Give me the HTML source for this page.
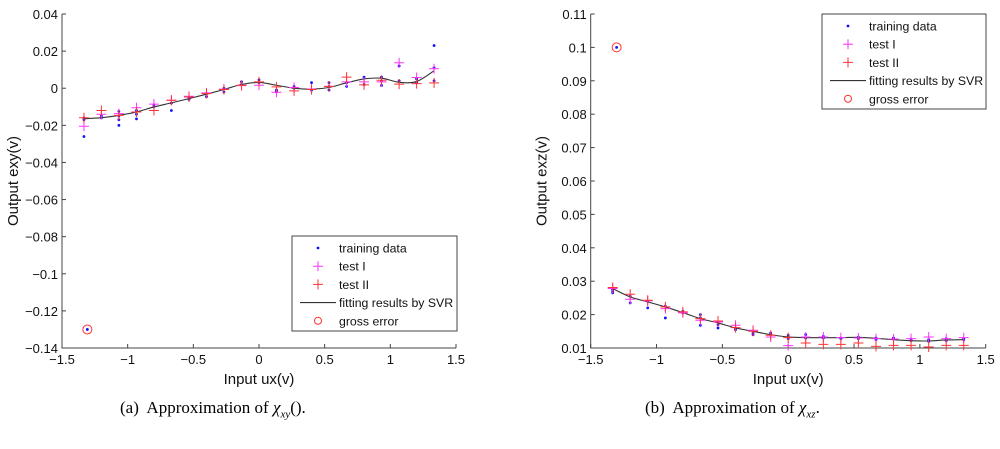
<!DOCTYPE html>
<html><head><meta charset="utf-8">
<style>
body{margin:0;background:#fff;width:1000px;height:444px;overflow:hidden;font-family:"Liberation Sans",sans-serif;}
svg text{font-family:"Liberation Sans",sans-serif;}
.cap{font-family:"Liberation Serif",serif;font-size:17px;}
</style></head><body>
<svg id="s" width="1000" height="444" viewBox="0 0 1000 444"></svg>
<script>
const xCats=[-1.333,-1.2,-1.067,-0.933,-0.8,-0.667,-0.533,-0.4,-0.267,-0.133,0,0.133,0.267,0.4,0.533,0.667,0.8,0.933,1.067,1.2,1.333];
const xTicks=[-1.5,-1,-0.5,0,0.5,1,1.5];
const xTickLabels=["\u22121.5","\u22121","\u22120.5","0","0.5","1","1.5"];
// Left chart
const aYTicks=[0.04,0.02,0,-0.02,-0.04,-0.06,-0.08,-0.1,-0.12,-0.14];
const aYTickLabels=["0.04","0.02","0","\u22120.02","\u22120.04","\u22120.06","\u22120.08","\u22120.1","\u22120.12","\u22120.14"];
const aFit=[-0.0164,-0.0159,-0.0146,-0.0128,-0.0101,-0.0079,-0.0056,-0.0032,-0.0007,0.002,0.0031,0.0016,0,-0.0005,0.0004,0.0029,0.005,0.0054,0.0032,0.0036,0.0094];
const aTest2=[-0.0159,-0.012,-0.0146,-0.0128,-0.012,-0.0065,-0.0047,-0.0029,-0.0007,0.0016,0.0034,0.0007,-0.0014,-0.0007,0.001,0.006,0.0018,0.0043,0.0022,0.0025,0.0029];
const aTest1=[-0.0205,-0.014,-0.0137,-0.0105,-0.0086,-0.0065,-0.0043,-0.0025,-0.0005,0.0014,0.0016,-0.0022,0.0004,-0.0005,0.001,0.0034,0.0034,0.0034,0.0137,0.0058,0.0105];
const aTrain=[[-0.016,-0.017,-0.026],[-0.016,-0.015],[-0.0125,-0.017,-0.02,-0.015],[-0.014,-0.0165,-0.012],[-0.009,-0.01],[-0.008,-0.012],[-0.005,-0.006],[-0.003,-0.0045],[0,-0.002],[0.0035,0.002],[0.0045,0.003],[-0.001,-0.002],[0.001,0],[0.003,-0.001],[0.003,0.001,-0.001],[0.003,0.001],[0.006,0.002],[0.006,0.0015,0.004],[0.012,0.004],[0.005,0.003],[0.023,0.011,0.004]];
const aGross=[-1.307,-0.13];
// Right chart
const bYTicks=[0.11,0.1,0.09,0.08,0.07,0.06,0.05,0.04,0.03,0.02,0.01];
const bYTickLabels=["0.11","0.1","0.09","0.08","0.07","0.06","0.05","0.04","0.03","0.02","0.01"];
const bFit=[0.0278,0.0253,0.0238,0.0223,0.0206,0.0188,0.0175,0.016,0.015,0.014,0.0133,0.0131,0.0131,0.0131,0.0132,0.0129,0.0125,0.0122,0.0121,0.0124,0.0125];
const bTest2=[0.0281,0.0261,0.0243,0.0223,0.0208,0.0188,0.0181,0.0161,0.015,0.0138,0.0131,0.0115,0.0111,0.0111,0.0115,0.0105,0.0108,0.0108,0.0103,0.0108,0.0108];
const bTest1=[0.0278,0.0246,0.0241,0.0218,0.0205,0.0183,0.0178,0.0168,0.0153,0.0133,0.0107,0.0133,0.0133,0.0131,0.013,0.0128,0.0127,0.0128,0.0133,0.0128,0.0131];
const bTrain=[[0.0265,0.027,0.0275],[0.0235,0.0255],[0.022,0.024],[0.019,0.0225],[0.0205,0.021],[0.0168,0.02,0.019],[0.016,0.017],[0.0155,0.016],[0.014,0.0145],[0.014,0.0145],[0.0128,0.0138],[0.014,0.013],[0.0135,0.013],[0.013,0.0128],[0.0128,0.0132],[0.0125,0.013],[0.0128,0.013],[0.0122,0.0127],[0.012,0.0125],[0.0122,0.0128],[0.0125,0.0128]];
const bGross=[-1.303,0.1];

const NS="http://www.w3.org/2000/svg";
const svg=document.getElementById('s');
function mk(tag,attrs,parent,text){const e=document.createElementNS(NS,tag);for(const k in attrs)e.setAttribute(k,attrs[k]);if(text!==undefined)e.textContent=text;(parent||svg).appendChild(e);return e;}

function chart(cfg){
  const g=mk('g',{});
  
  
  const X=v=>cfg.x0+(v-(-1.5))/3*(cfg.x1-cfg.x0);
  const Y=v=>cfg.y1-(v-cfg.ymin)/(cfg.ymax-cfg.ymin)*(cfg.y1-cfg.y0);
  const ax=mk('path',{d:`M${cfg.x0},${cfg.y0}V${cfg.y1}H${cfg.x1}`,stroke:'#444',fill:'none','stroke-width':1},g);
  
  
  xTicks.forEach((t,i)=>{
    mk('line',{x1:X(t),x2:X(t),y1:cfg.y1,y2:cfg.y1-4,stroke:'#444'},g);
    const tl=mk('text',{x:X(t),y:cfg.y1+16,'font-size':13,'text-anchor':'middle',fill:'#111'},g,xTickLabels[i]);
    
    
  });
  cfg.yTicks.forEach((t,i)=>{
    mk('line',{x1:cfg.x0,x2:cfg.x0+4,y1:Y(t),y2:Y(t),stroke:'#444'},g);
    const tl=mk('text',{x:cfg.x0-4,y:Y(t)+5,'font-size':13,'text-anchor':'end',fill:'#111'},g,cfg.yLabels[i]);
    
    
  });
  const xt=mk('text',{x:(cfg.x0+cfg.x1)/2,y:cfg.y1+36,'font-size':15,'text-anchor':'middle',fill:'#111'},g,'Input ux(v)');
  
  
  const yx=cfg.x0-44, yy=(cfg.y0+cfg.y1)/2;
  const yt=mk('text',{x:yx,y:yy,'font-size':15,'text-anchor':'middle',fill:'#111',transform:`rotate(-90 ${yx} ${yy})`},g,cfg.yTitle);
  
  
  cfg.train.forEach((arr,i)=>arr.forEach(v=>{
    const c=mk('circle',{cx:X(xCats[i]),cy:Y(v),r:1.4,fill:'#1010ff'},g);
    
    
  }));
  const pts=xCats.map((x,i)=>[X(x),Y(cfg.fit[i])]);
  let d=`M${pts[0][0]},${pts[0][1]}`;
  for(let i=0;i<pts.length-1;i++){
    const p0=pts[Math.max(0,i-1)],p1=pts[i],p2=pts[i+1],p3=pts[Math.min(pts.length-1,i+2)];
    d+=`C${p1[0]+(p2[0]-p0[0])/6},${p1[1]+(p2[1]-p0[1])/6} ${p2[0]-(p3[0]-p1[0])/6},${p2[1]-(p3[1]-p1[1])/6} ${p2[0]},${p2[1]}`;
  }
  const fl=mk('path',{d,stroke:'#333',fill:'none','stroke-width':1.1},g);
  
  
  function plus(x,y,col,name){
    const p=mk('path',{d:`M${x-5},${y}H${x+5}M${x},${y-5}V${y+5}`,stroke:col,'stroke-width':1},g);
    
    
  }
  cfg.test1.forEach((v,i)=>plus(X(xCats[i]),Y(v),'#ff33ff','test-i-point'));
  cfg.test2.forEach((v,i)=>plus(X(xCats[i]),Y(v),'#ff3333','test-ii-point'));
  const ge=mk('circle',{cx:X(cfg.gross[0]),cy:Y(cfg.gross[1]),r:4.5,fill:'none',stroke:'#ff3333'},g);
  
  
  const gd=mk('circle',{cx:X(cfg.gross[0]),cy:Y(cfg.gross[1]),r:1.4,fill:'#1010ff'},g);
  
  
  const L=cfg.leg;
  const lg=mk('g',{},g);
  
  
  mk('rect',{x:L.x,y:L.y,width:L.w,height:L.h,fill:'#fff',stroke:'#444'},lg);
  const labels=['training data','test I','test II','fitting results by SVR','gross error'];
  labels.forEach((lab,i)=>{
    const cy=L.y+12+i*18.2, sx=L.x+26;
    if(i===0)mk('circle',{cx:sx,cy,r:1.4,fill:'#1010ff'},lg);
    if(i===1||i===2)mk('path',{d:`M${sx-5},${cy}H${sx+5}M${sx},${cy-5}V${cy+5}`,stroke:i===1?'#ff33ff':'#ff3333'},lg);
    if(i===3)mk('line',{x1:sx-18,x2:sx+18,y1:cy,y2:cy,stroke:'#333','stroke-width':1.1},lg);
    if(i===4)mk('circle',{cx:sx,cy,r:3.5,fill:'none',stroke:'#ff3333'},lg);
    const t=mk('text',{x:L.x+47,y:cy+4.5,'font-size':12.3,fill:'#111'},lg,lab);
    
    
  });
}
chart({name:'chart-exy',x0:62,x1:456,y0:14,y1:348,ymin:-0.14,ymax:0.04,yTicks:aYTicks,yLabels:aYTickLabels,yTitle:'Output exy(v)',fit:aFit,test1:aTest1,test2:aTest2,train:aTrain,gross:aGross,leg:{x:292,y:236,w:165,h:95}});
chart({name:'chart-exz',x0:590.7,x1:985.7,y0:14,y1:348,ymin:0.01,ymax:0.11,yTicks:bYTicks,yLabels:bYTickLabels,yTitle:'Output exz(v)',fit:bFit,test1:bTest1,test2:bTest2,train:bTrain,gross:bGross,leg:{x:822,y:14,w:164,h:95}});
</script>
<div class="cap" style="position:absolute;left:120px;top:398px;">(a)&nbsp; Approximation of <i>χ</i><sub style="font-size:11px"><i>xy</i></sub>().</div>
<div class="cap" style="position:absolute;left:645px;top:398px;">(b)&nbsp; Approximation of <i>χ</i><sub style="font-size:11px"><i>xz</i></sub>.</div>
</body></html>
